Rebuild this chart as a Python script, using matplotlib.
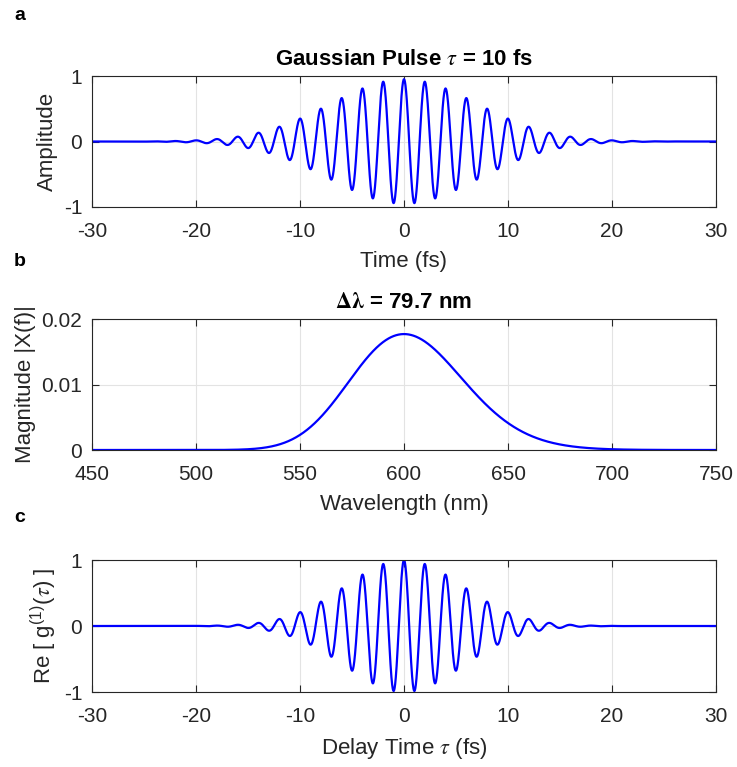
import numpy as np
import matplotlib.pyplot as plt

# values
tau_fs = 10.0           # pulse width in title
center_wl_nm = 600.0    # carrier wavelength (peak of spectrum)
pulse_peak = 0.95       # max amplitude seen in panel a
spec_peak = 0.0177      # peak of |X(f)| in panel b
g1_width_fs = 8.0       # 1/e half width of Re g1 envelope in panel c
delta_wl_nm = 79.7

time_ticks = [-30, -20, -10, 0, 10, 20, 30]
wl_ticks = [450, 500, 550, 600, 650, 700, 750]

c_nm_fs = 299.792458  # nm per fs
t = np.linspace(-30, 30, 6001)
w0 = 2 * np.pi * c_nm_fs / center_wl_nm
pulse = pulse_peak * np.exp(-t**2 / tau_fs**2) * np.cos(w0 * t)

wl = np.linspace(450, 750, 1501)
w = 2 * np.pi * c_nm_fs / wl
spec = spec_peak * np.exp(-tau_fs**2 * (w - w0)**2 / 4)

g1 = np.exp(-t**2 / g1_width_fs**2) * np.cos(w0 * t)

plt.rcParams['font.family'] = ['Liberation Sans', 'DejaVu Sans']
plt.rcParams['mathtext.fontset'] = 'stix'
plt.rcParams['axes.unicode_minus'] = False
dark = '#262626'

fig = plt.figure(figsize=(7.37, 7.67), dpi=100)
W, H = 737, 767


def make_ax(top, bottom):
    return fig.add_axes([92 / W, (H - bottom) / H, 624 / W, (bottom - top) / H])


def style(ax):
    ax.grid(True, color='#e3e3e3', linewidth=0.8)
    ax.set_axisbelow(True)
    ax.tick_params(direction='in', top=True, right=True, length=5, width=0.8,
                   colors=dark, labelsize=15)
    ax.tick_params(axis='x', pad=11)
    ax.tick_params(axis='y', pad=7)
    for s in ax.spines.values():
        s.set_color(dark)
        s.set_linewidth(0.8)


ax1 = make_ax(76, 207)
ax1.plot(t, pulse, color='blue', linewidth=1.6)
ax1.set_xlim(-30, 30)
ax1.set_ylim(-1, 1)
ax1.set_xticks(time_ticks)
ax1.set_yticks([-1, 0, 1])
ax1.set_xlabel('Time (fs)', fontsize=16, color=dark, labelpad=7)
ax1.set_ylabel('Amplitude', fontsize=16, color=dark)
ax1.set_title(r'Gaussian Pulse $\tau$ = 10 fs', fontsize=16, fontweight='bold', pad=8)
style(ax1)

ax2 = make_ax(319, 450)
ax2.plot(wl, spec, color='blue', linewidth=1.6)
ax2.set_xlim(450, 750)
ax2.set_ylim(0, 0.02)
ax2.set_xticks(wl_ticks)
ax2.set_yticks([0, 0.01, 0.02])
ax2.set_yticklabels(['0', '0.01', '0.02'])
ax2.set_xlabel('Wavelength (nm)', fontsize=16, color=dark, labelpad=7)
ax2.set_ylabel('Magnitude |X(f)|', fontsize=16, color=dark)
ax2.set_title(r'$\mathbf{\Delta\lambda}$ = %.1f nm' % delta_wl_nm, fontsize=16,
              fontweight='bold', pad=8)
style(ax2)

ax3 = make_ax(560, 692)
ax3.plot(t, g1, color='blue', linewidth=1.6)
ax3.set_xlim(-30, 30)
ax3.set_ylim(-1, 1)
ax3.set_xticks(time_ticks)
ax3.set_yticks([-1, 0, 1])
ax3.set_xlabel(r'Delay Time $\tau$ (fs)', fontsize=16, color=dark, labelpad=7)
ax3.set_ylabel(r'Re [ g$^{\mathregular{(1)}}$($\tau$) ]', fontsize=16, color=dark)
style(ax3)

for lab, y in [('a', 15), ('b', 262), ('c', 518)]:
    fig.text(14 / W, 1 - y / H, lab, fontsize=14, fontweight='bold', va='center', ha='left')

fig.savefig('out.png', dpi=100)
